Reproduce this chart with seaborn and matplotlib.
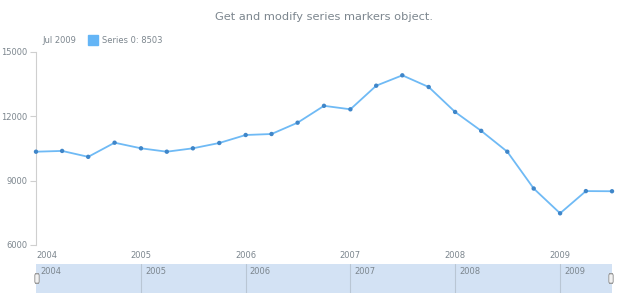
import matplotlib
matplotlib.use("Agg")
import matplotlib.pyplot as plt
from matplotlib.patches import FancyBboxPatch
import seaborn as sns
import pandas as pd

# ---- data ----
dates = ["2004-01-01", "2004-04-01", "2004-07-01", "2004-10-01",
         "2005-01-01", "2005-04-01", "2005-07-01", "2005-10-01",
         "2006-01-01", "2006-04-01", "2006-07-01", "2006-10-01",
         "2007-01-01", "2007-04-01", "2007-07-01", "2007-10-01",
         "2008-01-01", "2008-04-01", "2008-07-01", "2008-10-01",
         "2009-01-01", "2009-04-01", "2009-07-01"]
values = [10344, 10380, 10105, 10763,
          10502, 10344, 10502, 10750,
          11122, 11168, 11695, 12480,
          12318, 13417, 13900, 13356,
          12195, 11315, 10344, 8630,
          7476, 8510, 8503]
years = [2004, 2005, 2006, 2007, 2008, 2009]
y_ticks = [6000, 9000, 12000, 15000]
title = "Get and modify series markers object."
legend_date = "Jul 2009"
legend_label = "Series 0: 8503"

df = pd.DataFrame({"date": pd.to_datetime(dates), "value": values})
year_dates = pd.to_datetime([f"{y}-01-01" for y in years])
x_min = pd.Timestamp("2004-01-01")
x_max = pd.Timestamp("2009-07-01")

sns.set_theme(style="white")
plt.rcParams["font.family"] = ["DejaVu Sans"]

W, H = 620, 300
fig = plt.figure(figsize=(W / 100, H / 100), dpi=100)
fig.patch.set_facecolor("white")

def px_axes(x0, y0, x1, y1):
    return fig.add_axes([x0 / W, 1 - y1 / H, (x1 - x0) / W, (y1 - y0) / H])

text_col = "#7c868e"
line_col = "#6fbaf5"
marker_col = "#3f86c9"
axis_col = "#cfcfcf"

# ---- main plot ----
ax = px_axes(36, 51.7, 612, 245)
sns.lineplot(data=df, x="date", y="value", ax=ax, color=line_col, linewidth=1.3)
sns.scatterplot(data=df, x="date", y="value", ax=ax, color=marker_col, s=10,
                edgecolor="none", zorder=3, clip_on=False)
ax.set_xlim(x_min, x_max)
ax.set_ylim(6000, 15000)
ax.set_yticks(y_ticks)
ax.set_yticklabels([str(v) for v in y_ticks])
ax.set_xticks(year_dates)
ax.set_xticklabels([str(y) for y in years])
ax.set_xlabel("")
ax.set_ylabel("")
for s in ["top", "right", "bottom"]:
    ax.spines[s].set_visible(False)
ax.spines["left"].set_color(axis_col)
ax.spines["left"].set_linewidth(0.8)
ax.tick_params(axis="y", which="both", left=True, length=4, width=0.8,
               color=axis_col, labelsize=6, labelcolor=text_col, pad=2)
ax.tick_params(axis="x", bottom=True, length=0, labelsize=6,
               labelcolor=text_col, pad=4)
xt = ax.get_xticklabels()
xt[0].set_horizontalalignment("left")
ax.grid(False)

# title & legend
fig.text(324 / W, 1 - 16.6 / H, title, ha="center", va="center",
         fontsize=8.2, color=text_col)
fig.text(42.5 / W, 1 - 40.3 / H, legend_date, ha="left", va="center",
         fontsize=6, color=text_col)
fig.patches.append(plt.Rectangle((88 / W, 1 - 45.3 / H), 10 / W, 10 / H,
                                 transform=fig.transFigure, color="#64b5f6",
                                 figure=fig))
fig.text(102 / W, 1 - 40.3 / H, legend_label, ha="left", va="center",
         fontsize=6, color=text_col)

# ---- scroller ----
sax = px_axes(36, 264, 612, 292.7)
sax.set_facecolor("#d3e2f4")
sax.set_xlim(x_min, x_max)
sax.set_ylim(0, 1)
for d, y in zip(year_dates, years):
    if d > x_min:
        sax.axvline(d, color="#b9c6d4", linewidth=0.8)
    sax.text(d + pd.Timedelta(days=14), 0.75, str(y), ha="left", va="center",
             fontsize=6, color=text_col)
for s in sax.spines.values():
    s.set_visible(False)
sax.set_xticks([])
sax.set_yticks([])

for hx in (37, 611):
    fig.patches.append(FancyBboxPatch(((hx - 2.2) / W, 1 - 283.5 / H),
                                      4.4 / W, 10 / H,
                                      boxstyle="round,pad=0,rounding_size=0.006",
                                      transform=fig.transFigure,
                                      facecolor="#f2f2f2", edgecolor="#9a9a9a",
                                      linewidth=0.7, figure=fig, zorder=5))

fig.savefig("out.png", dpi=100, facecolor="white")
